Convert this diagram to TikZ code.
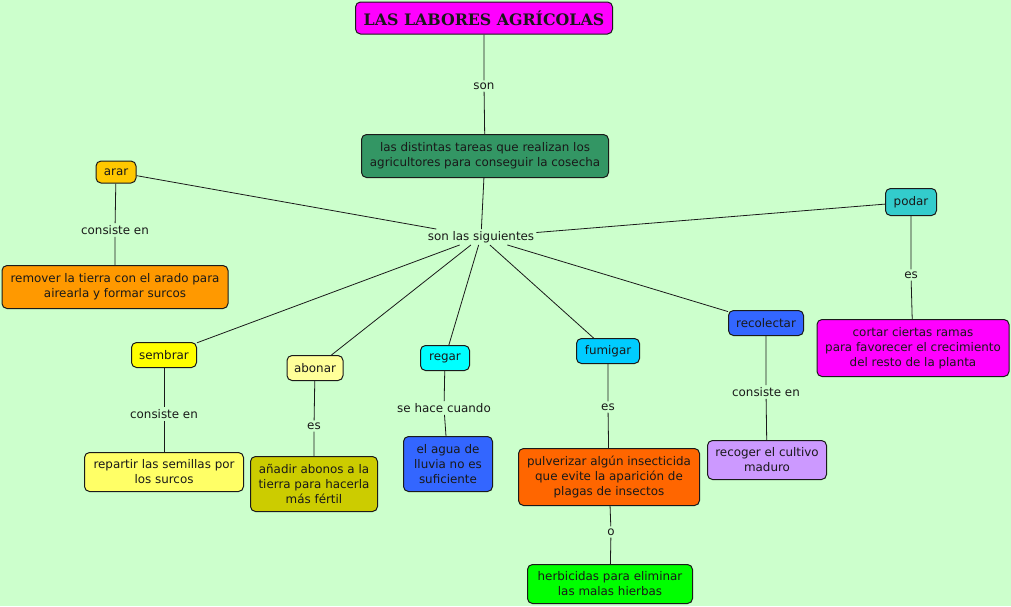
\documentclass[tikz,border=0pt]{standalone}
\usepackage{fontspec}
\setmainfont{DejaVu Sans}
\newfontfamily\titlefont{DejaVu Serif}
\definecolor{bgcol}{HTML}{CCFFCC}
\definecolor{edgecol}{HTML}{1A1A1A}
\begin{document}
\begin{tikzpicture}[x=1pt, y=-1pt,
  concept/.style={draw=edgecol, line width=1pt, rounded corners=5pt, align=center,
    inner sep=0pt, font=\fontsize{11.9}{15}\selectfont, text=black!90},
  linkword/.style={inner sep=2pt, font=\fontsize{11.9}{15}\selectfont, text=black!90},
  link/.style={draw=edgecol, line width=0.8pt}]
\fill[bgcol] (0,0) rectangle (1011,606);
\useasboundingbox (0,0) rectangle (1011,606);
% concepts
\node[concept, fill={rgb,255:red,255;green,0;blue,255}, minimum width=257, minimum height=32] (title) at (484,18)
  {\titlefont\bfseries\fontsize{15.8}{18}\selectfont LAS LABORES AGRÍCOLAS};
\node[concept, fill={rgb,255:red,51;green,150;blue,100}, minimum width=247, minimum height=43] (tareas) at (485,156)
  {las distintas tareas que realizan los\\agricultores para conseguir la cosecha};
\node[concept, fill={rgb,255:red,255;green,200;blue,0}, minimum width=40, minimum height=22] (arar) at (116,172) {arar};
\node[concept, fill={rgb,255:red,255;green,153;blue,0}, minimum width=226, minimum height=43] (remover) at (115,287)
  {remover la tierra con el arado para\\airearla y formar surcos};
\node[concept, fill={rgb,255:red,51;green,204;blue,204}, minimum width=51, minimum height=27] (podar) at (911,202) {podar};
\node[concept, fill={rgb,255:red,255;green,0;blue,255}, minimum width=192, minimum height=57] (cortar) at (913,348)
  {cortar ciertas ramas\\para favorecer el crecimiento\\del resto de la planta};
\node[concept, fill={rgb,255:red,255;green,255;blue,0}, minimum width=65, minimum height=25] (sembrar) at (164,355) {sembrar};
\node[concept, fill={rgb,255:red,255;green,255;blue,102}, minimum width=159, minimum height=39] (repartir) at (164,472)
  {repartir las semillas por\\los surcos};
\node[concept, fill={rgb,255:red,255;green,255;blue,153}, minimum width=56, minimum height=25] (abonar) at (315,368) {abonar};
\node[concept, fill={rgb,255:red,204;green,204;blue,0}, minimum width=127, minimum height=55] (anadir) at (314,484)
  {añadir abonos a la\\tierra para hacerla\\más fértil};
\node[concept, fill={rgb,255:red,0;green,255;blue,255}, minimum width=49, minimum height=25] (regar) at (445,358) {regar};
\node[concept, fill={rgb,255:red,51;green,102;blue,255}, minimum width=89, minimum height=55] (agua) at (448,464)
  {el agua de\\lluvia no es\\suficiente};
\node[concept, fill={rgb,255:red,0;green,204;blue,255}, minimum width=63, minimum height=25] (fumigar) at (608,351) {fumigar};
\node[concept, fill={rgb,255:red,255;green,102;blue,0}, minimum width=181, minimum height=57] (pulverizar) at (609,477)
  {pulverizar algún insecticida\\que evite la aparición de\\plagas de insectos};
\node[concept, fill={rgb,255:red,0;green,255;blue,0}, minimum width=165, minimum height=39] (herbicidas) at (610,584)
  {herbicidas para eliminar\\las malas hierbas};
\node[concept, fill={rgb,255:red,51;green,102;blue,255}, minimum width=75, minimum height=25] (recolectar) at (766,323) {recolectar};
\node[concept, fill={rgb,255:red,204;green,153;blue,255}, minimum width=119, minimum height=39] (recoger) at (767,460)
  {recoger el cultivo\\maduro};
% linking words
\node[linkword] (son) at (484,86) {son};
\node[linkword] (siguientes) at (481,237) {son las siguientes};
\node[linkword] (ararlink) at (115,230) {consiste en};
\node[linkword] (podarlink) at (911,275) {es};
\node[linkword] (sembrarlink) at (164,414) {consiste en};
\node[linkword] (abonarlink) at (314,426) {es};
\node[linkword] (regarlink) at (444,408) {se hace cuando};
\node[linkword] (fumigarlink) at (608,407) {es};
\node[linkword] (olink) at (611,532) {o};
\node[linkword] (recolectarlink) at (766,392) {consiste en};
% connectors
\draw[link] (title) -- (son) -- (tareas);
\draw[link] (tareas) -- (siguientes);
\draw[link] (arar) -- (siguientes);
\draw[link] (podar) -- (siguientes);
\draw[link] (siguientes) -- (sembrar);
\draw[link] (siguientes) -- (abonar);
\draw[link] (siguientes) -- (regar);
\draw[link] (siguientes) -- (fumigar);
\draw[link] (siguientes) -- (recolectar);
\draw[link] (arar) -- (ararlink) -- (remover);
\draw[link] (podar) -- (podarlink) -- (cortar);
\draw[link] (sembrar) -- (sembrarlink) -- (repartir);
\draw[link] (abonar) -- (abonarlink) -- (anadir);
\draw[link] (regar) -- (regarlink) -- (agua);
\draw[link] (fumigar) -- (fumigarlink) -- (pulverizar);
\draw[link] (pulverizar) -- (olink) -- (herbicidas);
\draw[link] (recolectar) -- (recolectarlink) -- (recoger);
\end{tikzpicture}
\end{document}
